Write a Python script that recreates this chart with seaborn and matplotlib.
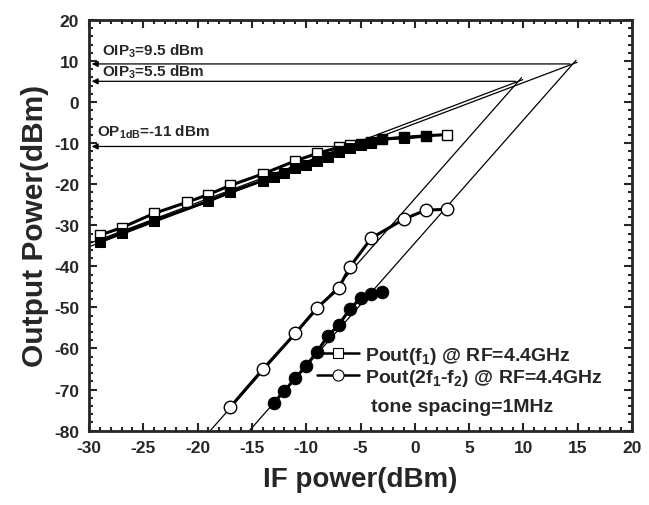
import matplotlib
matplotlib.use("Agg")
import matplotlib.pyplot as plt
from matplotlib.lines import Line2D
from matplotlib.ticker import MultipleLocator
import seaborn as sns

# Pout(f1), open squares
sq_open_x = [-29, -27, -24, -21, -19, -17, -14, -11, -9, -7, -6, -5, -4, -3, -1, 1, 3]
sq_open_y = [-32.4, -30.6, -27.1, -24.4, -22.5, -20.3, -17.5, -14.3, -12.5, -11.0, -10.4,
             -10.1, -9.6, -9.0, -8.6, -8.2, -7.9]
# second fundamental series, filled squares
sq_fill_x = [-29, -27, -24, -19, -17, -14, -13, -12, -11, -10, -9, -8, -7, -6, -5, -4, -3, -1, 1]
sq_fill_y = [-34.0, -31.9, -28.9, -24.1, -21.9, -19.1, -18.2, -17.3, -16.1, -15.2, -14.3,
             -13.3, -12.2, -11.2, -10.4, -9.9, -9.0, -8.7, -8.3]
# Pout(2f1-f2), open circles
ci_open_x = [-17, -14, -11, -9, -7, -6, -4, -1, 1, 3]
ci_open_y = [-74.3, -65.1, -56.3, -50.1, -45.3, -40.2, -33.1, -28.5, -26.3, -26.1]
# second IM3 series, filled circles
ci_fill_x = [-13, -12, -11, -10, -9, -8, -7, -6, -5, -4, -3]
ci_fill_y = [-73.3, -70.3, -67.2, -64.2, -60.8, -56.9, -54.3, -50.4, -47.8, -46.7, -46.3]

# intercept points (x, y) and extrapolated fits
ip3_x = [14.54, 9.53]
ip3_y = [9.3, 5.07]
ip3_labels = ["OIP$_3$=9.5 dBm", "OIP$_3$=5.5 dBm"]
p1db_x = -6
p1db_y = -10.8
p1db_label = "OP$_{1dB}$=-11 dBm"

sns.set_style("ticks")
plt.rcParams["font.family"] = ["Liberation Sans", "DejaVu Sans"]
plt.rcParams["font.weight"] = "bold"
plt.rcParams["axes.unicode_minus"] = False
plt.rcParams["mathtext.fontset"] = "custom"
plt.rcParams["mathtext.rm"] = "Liberation Sans:bold"
plt.rcParams["mathtext.it"] = "Liberation Sans:bold"
plt.rcParams["mathtext.bf"] = "Liberation Sans:bold"

fig = plt.figure(figsize=(6.49, 5.06), dpi=100)
ax = fig.add_axes([0.137, 0.147, 0.837, 0.8115])

# fitted lines: slope 1 for fundamentals, slope 3 for IM3
for xi, yi in zip(ip3_x, ip3_y):
    xs = [-30, xi + 0.4]
    ax.plot(xs, [yi + (v - xi) for v in xs], color="k", lw=0.9)
    x0 = xi - (yi + 80) / 3
    xs = [x0, xi + 0.3]
    ax.plot(xs, [yi + 3 * (v - xi) for v in xs], color="k", lw=0.9)

# horizontal arrows to the y axis
for xi, yi in zip(ip3_x, ip3_y):
    ax.annotate("", xy=(-30, yi), xytext=(xi, yi),
                arrowprops=dict(arrowstyle="-|>", color="k", lw=0.9, mutation_scale=9))
ax.annotate("", xy=(-30, p1db_y), xytext=(p1db_x, p1db_y),
            arrowprops=dict(arrowstyle="-|>", color="k", lw=0.9, mutation_scale=9))

ax.text(-28.8, 12.6, ip3_labels[0], fontsize=11, fontweight="bold", va="center")
ax.text(-28.8, 7.5, ip3_labels[1], fontsize=11, fontweight="bold", va="center")
ax.text(-29.3, -7.2, p1db_label, fontsize=11, fontweight="bold", va="center")

sns.lineplot(x=sq_open_x, y=sq_open_y, ax=ax, color="k", lw=2.2, marker="s", ms=7.5,
             markerfacecolor="white", markeredgecolor="k", markeredgewidth=1)
sns.lineplot(x=sq_fill_x, y=sq_fill_y, ax=ax, color="k", lw=2.2, marker="s", ms=7.5,
             markerfacecolor="k", markeredgecolor="k")
sns.lineplot(x=ci_open_x, y=ci_open_y, ax=ax, color="k", lw=2.2, marker="o", ms=9,
             markerfacecolor="white", markeredgecolor="k", markeredgewidth=1)
sns.lineplot(x=ci_fill_x, y=ci_fill_y, ax=ax, color="k", lw=2.2, marker="o", ms=9,
             markerfacecolor="k", markeredgecolor="k")

handles = [
    Line2D([], [], color="k", lw=1.8, marker="s", ms=7, markerfacecolor="white",
           markeredgecolor="k", markeredgewidth=0.8),
    Line2D([], [], color="k", lw=1.8, marker="o", ms=8, markerfacecolor="white",
           markeredgecolor="k", markeredgewidth=0.8),
]
labels = ["Pout(f$_1$) @ RF=4.4GHz", "Pout(2f$_1$-f$_2$) @ RF=4.4GHz"]
ax.legend(handles, labels, loc="lower left", bbox_to_anchor=(0.405, 0.085), frameon=False,
          handlelength=2.2, handletextpad=0.3, borderaxespad=0, labelspacing=0.05,
          prop={"size": 14, "weight": "bold"})
ax.text(-4.0, -74.2, "tone spacing=1MHz", fontsize=14, fontweight="bold", va="center")

ax.set_xlim(-30, 20)
ax.set_ylim(-80, 20)
ax.xaxis.set_major_locator(MultipleLocator(5))
ax.xaxis.set_minor_locator(MultipleLocator(1))
ax.yaxis.set_major_locator(MultipleLocator(10))
ax.yaxis.set_minor_locator(MultipleLocator(2))
ax.tick_params(which="both", direction="in", top=True, right=True, width=1.5)
ax.tick_params(which="major", length=6, labelsize=12.5, pad=7)
ax.tick_params(which="minor", length=3)
for lab in ax.get_xticklabels() + ax.get_yticklabels():
    lab.set_fontweight("bold")
for sp in ax.spines.values():
    sp.set_linewidth(2)
    sp.set_visible(True)

ax.set_xlabel("IF power(dBm)", fontsize=20, fontweight="bold", labelpad=8)
ax.set_ylabel("Output Power(dBm)", fontsize=21.5, fontweight="bold", labelpad=4)

fig.savefig("out.png", dpi=100)
